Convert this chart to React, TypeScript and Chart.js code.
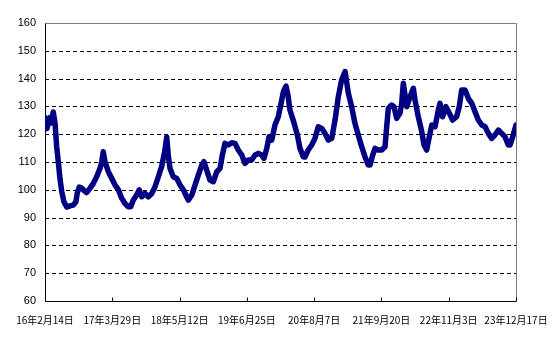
import React, { useEffect, useRef } from "react";
import { Chart, registerables } from "chart.js";

Chart.register(...registerables);

const xTickLabels = [
  "16年2月14日", "17年3月29日", "18年5月12日", "19年6月25日",
  "20年8月7日", "21年9月20日", "22年11月3日", "23年12月17日",
];
const yTicks = [60, 70, 80, 90, 100, 110, 120, 130, 140, 150, 160];

// day index from 16/2/14
const days = [
  0, 12, 30, 36, 50, 61, 71, 81, 91, 102, 115, 132, 152, 172, 188, 196, 208, 223, 233, 253,
  274, 294, 314, 334, 345, 354, 365, 385, 405, 426, 446, 466, 486, 506, 521, 537, 557, 573, 588, 608,
  628, 649, 669, 689, 709, 729, 740, 750, 760, 780, 801, 821, 841, 861, 871, 892, 912, 932, 953, 966,
  983, 1003, 1023, 1044, 1064, 1078, 1094, 1114, 1135, 1155, 1175, 1196, 1216, 1236, 1256, 1277, 1297, 1317, 1331, 1348,
  1362, 1378, 1398, 1418, 1435, 1449, 1465, 1477, 1489, 1509, 1520, 1534, 1550, 1570, 1580, 1600, 1621, 1641, 1661, 1682,
  1702, 1722, 1743, 1763, 1783, 1803, 1824, 1844, 1864, 1884, 1904, 1925, 1945, 1965, 1976, 1992, 2006, 2026, 2047, 2067,
  2077, 2087, 2107, 2121, 2138, 2158, 2168, 2178, 2199, 2219, 2239, 2249, 2269, 2290, 2304, 2320, 2336, 2351, 2371, 2391,
  2401, 2417, 2437, 2458, 2478, 2502, 2518, 2533, 2553, 2573, 2594, 2614, 2634, 2655, 2675, 2695, 2715, 2735, 2756, 2776,
  2796, 2816, 2827, 2843, 2863,
];
const values = [
  126, 122, 126, 124, 128, 124, 115.5, 110, 104, 99.3, 95.7, 93.8, 94.2, 94.5, 95.7, 98.8, 101, 100.6, 100, 99,
  100.6, 102.3, 104.7, 107.7, 110, 113.7, 110, 106.5, 104.2, 101.7, 100, 97, 95.1, 93.9, 93.9, 96.3, 98.1, 100, 97.5, 98.7,
  97.5, 98.7, 101.1, 104.7, 108.3, 114.3, 119, 112, 107.7, 104.7, 104.1, 101.7, 100, 97.5, 96.3, 98.1, 101.7, 105.3, 108.9, 110.1,
  107.1, 103.5, 102.9, 106.5, 107.7, 112.5, 116.7, 116.1, 116.9, 116.7, 114.3, 112.5, 109.5, 110.7, 110.7, 112.5, 113.1, 112.5, 111.3, 114.9,
  119.1, 117.9, 123.3, 126.3, 131.1, 135.3, 137.3, 134, 128.7, 125, 122.7, 119.7, 114.9, 111.9, 111.8, 114.3, 116.1, 118.5, 122.7, 122.1,
  120.3, 117.9, 118.5, 125.1, 133.5, 139.5, 142.5, 134.7, 129.9, 123.9, 119.7, 115.5, 111.9, 108.9, 108.9, 112.5, 114.9, 114.3, 114.3, 115.5,
  122.7, 129.3, 130.5, 129.9, 125.7, 127.6, 131, 138.3, 129.9, 133.5, 136.5, 132.3, 126.3, 120.9, 116.1, 114.3, 119.1, 123.3, 122.7, 128.7,
  131.1, 126.3, 129.9, 127.5, 125.1, 126.3, 129.9, 135.9, 135.9, 132.9, 131.1, 128.1, 125.1, 123.3, 122.7, 120.3, 118.5, 119.7, 121.5, 120.3,
  119.1, 116.1, 116.1, 119.1, 123.3,
];
const totalDays = 2863;
const tickStep = 409;

const framePlugin = {
  id: "frame",
  beforeDatasetsDraw(chart: any) {
    const { ctx, chartArea, scales } = chart;
    const { left, right, top, bottom } = chartArea;
    const ys = scales.y;
    const xs = scales.x;
    ctx.save();
    ctx.strokeStyle = "#000";
    ctx.lineWidth = 1;
    ctx.setLineDash([4, 3]);
    for (const v of yTicks) {
      if (v === yTicks[0] || v === yTicks[yTicks.length - 1]) continue;
      const y = Math.round(ys.getPixelForValue(v)) + 0.5;
      ctx.beginPath();
      ctx.moveTo(left, y);
      ctx.lineTo(right, y);
      ctx.stroke();
    }
    ctx.setLineDash([]);
    ctx.strokeStyle = "#808080";
    const ty = Math.round(top) + 0.5;
    const rx = Math.round(right) + 0.5;
    ctx.beginPath();
    ctx.moveTo(left, ty);
    ctx.lineTo(rx, ty);
    ctx.lineTo(rx, bottom);
    ctx.stroke();
    ctx.strokeStyle = "#000";
    const lx = Math.round(left) + 0.5;
    const by = Math.round(bottom) + 0.5;
    ctx.beginPath();
    ctx.moveTo(lx, ty);
    ctx.lineTo(lx, by);
    ctx.lineTo(rx, by);
    ctx.stroke();
    for (let i = 0; i < xTickLabels.length; i++) {
      const x = Math.round(xs.getPixelForValue(i * tickStep)) + 0.5;
      ctx.beginPath();
      ctx.moveTo(x, by);
      ctx.lineTo(x, by - 4);
      ctx.stroke();
    }
    ctx.restore();
  },
};

export default function App() {
  const ref = useRef<HTMLCanvasElement>(null);
  useEffect(() => {
    document.body.style.margin = "0";
    const points = days.map((d, i) => ({ x: d, y: values[i] }));
    const chart = new Chart(ref.current!, {
      type: "line",
      data: {
        datasets: [
          {
            data: points,
            borderColor: "#000080",
            backgroundColor: "#000080",
            borderWidth: 5.5,
            pointRadius: 0,
            tension: 0,
            borderJoinStyle: "round",
            borderCapStyle: "round",
          },
        ],
      },
      options: {
        animation: false,
        responsive: false,
        maintainAspectRatio: false,
        layout: { padding: { left: 0, right: 38, top: 23, bottom: 0 } },
        plugins: { legend: { display: false }, tooltip: { enabled: false } },
        scales: {
          x: {
            type: "linear",
            min: 0,
            max: totalDays,
            grid: { display: false, drawTicks: false },
            border: { display: false },
            afterFit: (s: any) => {
              s.height = 42;
              s.paddingLeft = 0;
              s.paddingRight = 0;
            },
            ticks: {
              stepSize: tickStep,
              autoSkip: false,
              maxRotation: 0,
              padding: 13,
              color: "#000",
              font: { family: "'Noto Sans CJK JP', sans-serif", size: 10 },
              callback: (v: any) => {
                const idx = Math.round(Number(v) / tickStep);
                return xTickLabels[idx] ?? "";
              },
            },
          },
          y: {
            min: 60,
            max: 160,
            grid: { display: false, drawTicks: false },
            border: { display: false },
            afterFit: (s: any) => {
              s.width = 45;
              s.paddingTop = 0;
              s.paddingBottom = 0;
            },
            ticks: {
              stepSize: 10,
              padding: 9,
              color: "#000",
              font: { family: "'Liberation Sans', sans-serif", size: 11 },
            },
          },
        },
      },
      plugins: [framePlugin],
    });
    return () => chart.destroy();
  }, []);
  return (
    <div style={{ position: "absolute", left: 0, top: 0, width: 554, height: 343 }}>
      <canvas ref={ref} width={554} height={343} style={{ width: 554, height: 343 }} />
    </div>
  );
}
